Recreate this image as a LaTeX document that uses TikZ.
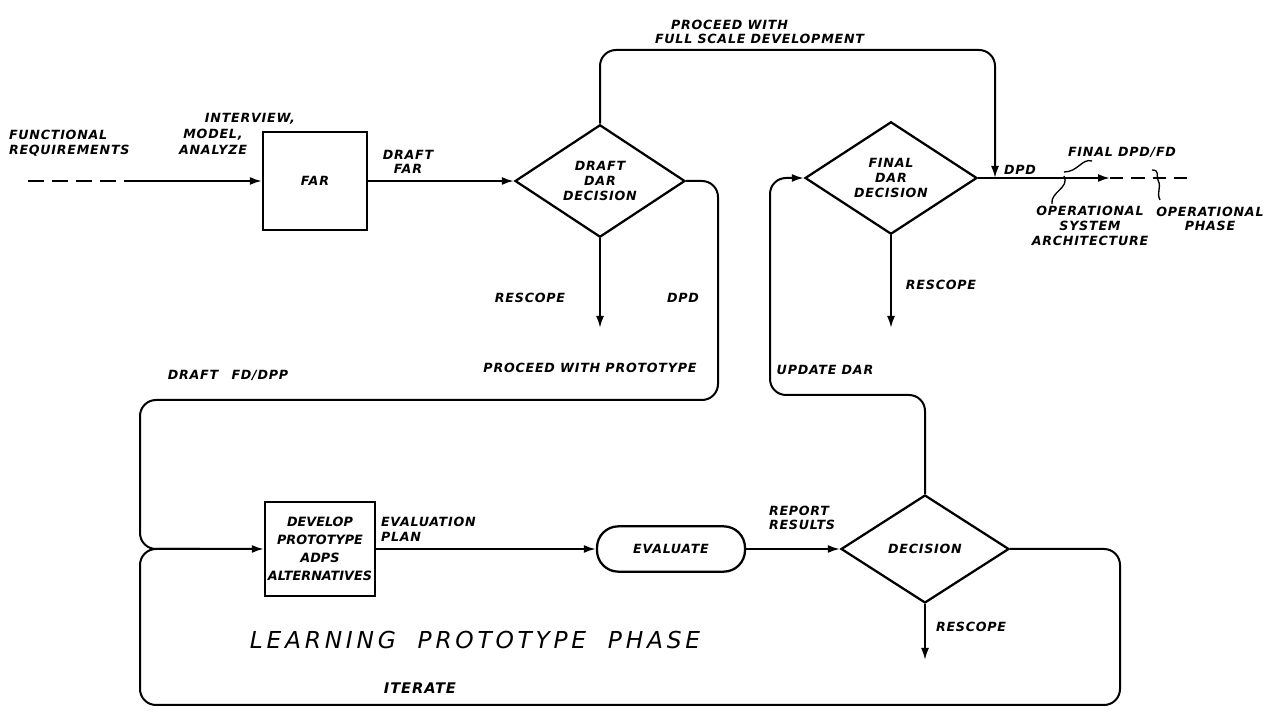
\documentclass[tikz,border=0pt]{standalone}
\usepackage{fontspec}
\newfontfamily\handfont[LetterSpace=6]{DejaVu Sans}
\newfontfamily\tighthand{DejaVu Sans}
\newfontfamily\bighand[LetterSpace=16]{DejaVu Sans}
\usepackage{tikz}
\usetikzlibrary{arrows.meta,shapes.geometric}

\begin{document}
\begin{tikzpicture}[x=0.75pt,y=-0.75pt,>={Latex[length=9pt,width=6pt]},line width=1.5pt,
  lbl/.style={font=\handfont\bfseries\itshape\fontsize{9.5}{11}\selectfont,align=center,inner sep=0pt},
  blk/.style={draw,line width=1.7pt,align=center,inner sep=0pt,font=\handfont\bfseries\itshape\fontsize{9.5}{12}\selectfont},
  dec/.style={diamond,draw,line width=1.7pt,align=center,inner sep=0pt,font=\handfont\bfseries\itshape\fontsize{9.5}{11}\selectfont},
  wire/.style={->,rounded corners=12pt},
  tick/.style={line width=1pt}]
  \useasboundingbox (0,0) rectangle (1286,712);
  \node[blk,minimum width=78pt,minimum height=73pt] (far) at (315,181) {FAR};
  \node[dec,minimum width=127.5pt,minimum height=72pt] (dd1) at (600,181) {DRAFT\\DAR\\DECISION};
  \node[dec,minimum width=129pt,minimum height=75pt] (dd2) at (891,178) {FINAL\\DAR\\DECISION};
  \node[blk,minimum width=82.5pt,minimum height=71pt,font=\tighthand\bfseries\itshape\fontsize{9.6}{13.5}\selectfont] (dev) at (320,549) {DEVELOP\\PROTOTYPE\\ADPS\\ALTERNATIVES};
  \node[blk,rounded corners=16pt,minimum width=111pt,minimum height=34pt] (eval) at (671,549) {EVALUATE};
  \node[dec,minimum width=126pt,minimum height=81pt] (dd3) at (925,549) {DECISION};
  \coordinate (inl) at (28,181);
  \coordinate (dsh) at (140,181);
  \coordinate (rs1) at (600,328);
  \coordinate (rs2) at (891,328);
  \coordinate (rs3) at (925,660);
  \coordinate (jn) at (995,178);
  \coordinate (op) at (1110,178);
  \coordinate (opend) at (1192,178);
  \node[lbl,anchor=west,align=left] (freq) at (8,143) {FUNCTIONAL\\REQUIREMENTS};
  \node[lbl] (intv) at (250,119) {INTERVIEW,};
  \node[lbl] (modl) at (213,135) {MODEL,};
  \node[lbl] (anlz) at (213,150) {ANALYZE};
  \node[lbl] (dfar) at (408,162) {DRAFT\\FAR};
  \node[lbl,anchor=south west,align=left] (fsd) at (654,45) {\hspace{12pt}PROCEED WITH\\FULL SCALE DEVELOPMENT};
  \node[lbl] (rsc1) at (530,298) {RESCOPE};
  \node[lbl] (dpd1) at (683,298) {DPD};
  \node[lbl] (dfd) at (228,375) {DRAFT\hspace{10pt}FD/DPP};
  \node[lbl] (pwp) at (590,368) {PROCEED WITH PROTOTYPE};
  \node[lbl] (upd) at (825,370) {UPDATE DAR};
  \node[lbl] (rsc2) at (941,285) {RESCOPE};
  \node[lbl] (dpd2) at (1020,170) {DPD};
  \node[lbl] (fdpd) at (1122,152) {FINAL DPD/FD};
  \node[lbl] (osa) at (1090,226) {OPERATIONAL\\SYSTEM\\ARCHITECTURE};
  \node[lbl] (oph) at (1210,219) {OPERATIONAL\\PHASE};
  \node[lbl,anchor=west,align=left] (eplan) at (380,529) {EVALUATION\\PLAN};
  \node[lbl,anchor=west,align=left] (rres) at (768,518) {REPORT\\RESULTS};
  \node[lbl,anchor=west] (rsc3) at (935,627) {RESCOPE};
  \node[lbl,font=\bighand\itshape\fontsize{17.5}{20}\selectfont] (lpp) at (475,640) {LEARNING\hspace{8pt} PROTOTYPE\hspace{8pt} PHASE};
  \node[lbl,font=\handfont\bfseries\itshape\fontsize{11}{13}\selectfont] (iter) at (420,688) {ITERATE};
  \draw[dashed,dash pattern=on 12pt off 6pt] (inl) -- (dsh);
  \draw[->] (dsh) -- (far);
  \draw[->] (far) -- (dd1);
  \draw[wire] (dd1.north) |- (995,50) -- (jn);
  \draw[->] (dd1.south) -- (rs1);
  \draw[wire] (dd1.east) -| (718,400) -| (140,549) -- (dev.west);
  \draw[->] (dev) -- (eval);
  \draw[->] (eval) -- (dd3);
  \draw[rounded corners=12pt] (dd3.east) -| (1120,705) -| (140,549) -- (200,549);
  \draw[wire] (dd3.north) |- (770,395) |- (dd2.west);
  \draw[->] (dd3.south) -- (rs3);
  \draw[->] (dd2.south) -- (rs2);
  \draw[->] (dd2.east) -- (op);
  \draw[dashed,dash pattern=on 10pt off 6pt] (op) -- (opend);
  \draw[tick] (1092,161) .. controls (1082,158) and (1078,172) .. (1064,172);
  \draw[tick] (1064,176) .. controls (1070,188) and (1050,192) .. (1052,204);
  \draw[tick] (1152,170) .. controls (1160,170) and (1156,176) .. (1158,180) .. controls (1162,188) and (1156,192) .. (1160,200);
\end{tikzpicture}
\end{document}
